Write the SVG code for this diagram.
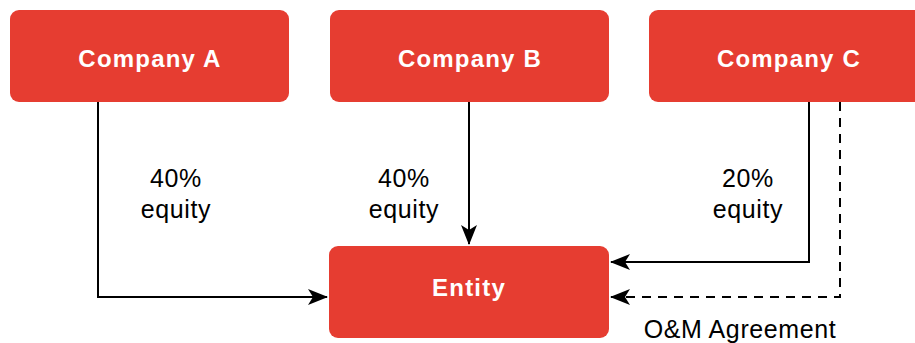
<svg xmlns="http://www.w3.org/2000/svg" width="915" height="343" viewBox="0 0 915 343">
<style>
.node{fill:#e63d31;}
.nt{font-family:"Liberation Sans",Arial,sans-serif;font-size:24px;font-weight:bold;fill:#ffffff;text-anchor:middle;letter-spacing:1.2px;}
.lbl{font-family:"Liberation Sans",Arial,sans-serif;font-size:25px;fill:#000000;text-anchor:middle;letter-spacing:0.6px;}
.edge{fill:none;stroke:#000000;stroke-width:2;}
.dash{stroke-dasharray:9 7;}
</style>
<defs>
<marker id="arr" viewBox="0 0 20 16" refX="19" refY="8" markerWidth="20" markerHeight="16" markerUnits="userSpaceOnUse" orient="auto">
<path d="M0,0 L20,8 L0,16 L5,8 Z" fill="#000000"/>
</marker>
</defs>
<rect width="915" height="343" fill="#ffffff"/>
<g id="connectors">
<path class="edge" d="M98,102 V297 H327" marker-end="url(#arr)"/>
<path class="edge" d="M469,102 V244" marker-end="url(#arr)"/>
<path class="edge" d="M809,102 V262 H611" marker-end="url(#arr)"/>
<path class="edge dash" d="M840,102 V297 H611" marker-end="url(#arr)"/>
</g>
<g id="companyA"><rect class="node" x="10" y="10" width="279" height="92" rx="9"/><text class="nt" x="150" y="67">Company A</text></g>
<g id="companyB"><rect class="node" x="330" y="10" width="279" height="92" rx="9"/><text class="nt" x="470" y="67">Company B</text></g>
<g id="companyC"><rect class="node" x="649" y="10" width="279" height="92" rx="9"/><text class="nt" x="789" y="67">Company C</text></g>
<g id="entity"><rect class="node" x="329" y="246" width="280" height="92" rx="9"/><text class="nt" x="469" y="296">Entity</text></g>
<g id="labels">
<text class="lbl" x="176" y="187">40%</text>
<text class="lbl" x="176" y="218">equity</text>
<text class="lbl" x="404" y="187">40%</text>
<text class="lbl" x="404" y="218">equity</text>
<text class="lbl" x="748" y="187">20%</text>
<text class="lbl" x="748" y="218">equity</text>
<text class="lbl" x="740" y="338">O&amp;M Agreement</text>
</g>
</svg>
